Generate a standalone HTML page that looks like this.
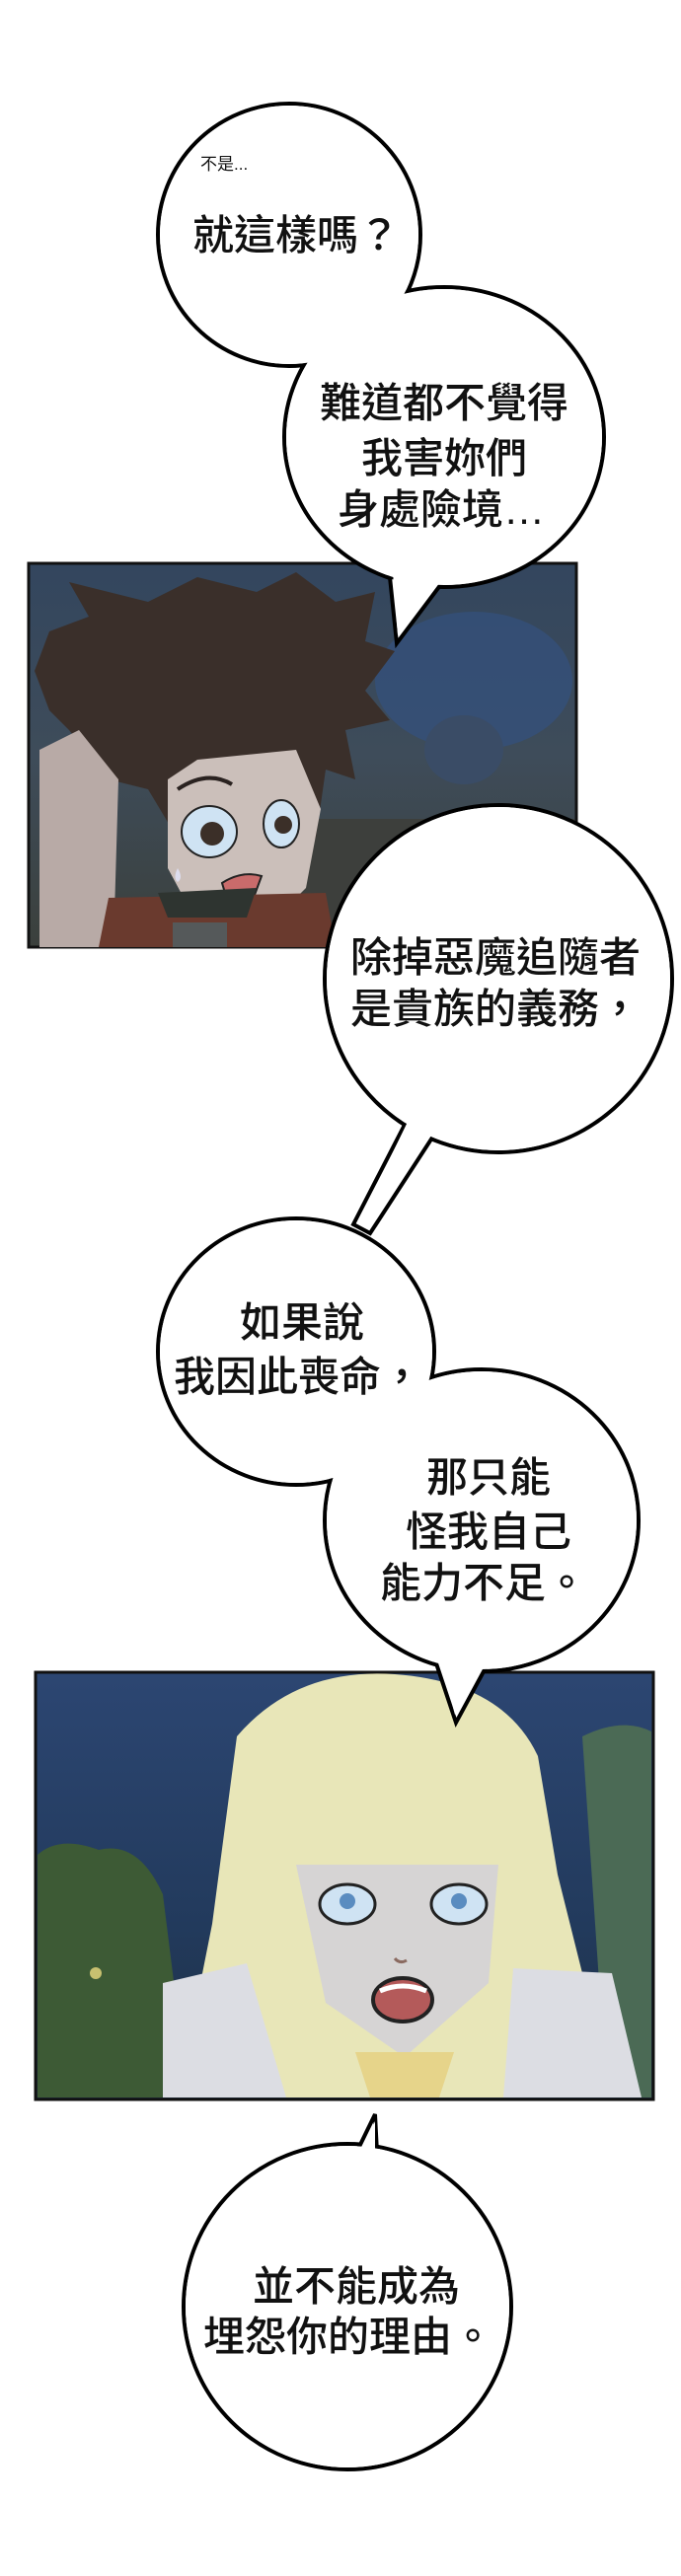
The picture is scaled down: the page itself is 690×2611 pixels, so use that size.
<!DOCTYPE html>
<html><head><meta charset="utf-8"><style>
html,body{margin:0;padding:0;background:#fff;}
svg{display:block;}
text{font-family:"Liberation Sans","Noto Sans CJK TC",sans-serif;font-size:42px;font-weight:500;fill:#111;text-anchor:middle;}
</style></head><body>
<svg width="690" height="2611" viewBox="0 0 690 2611" xmlns="http://www.w3.org/2000/svg">
<defs>
<linearGradient id="p1" x1="0" y1="0" x2="0" y2="1"><stop offset="0" stop-color="#33465e"/><stop offset="0.5" stop-color="#3e4c5a"/><stop offset="1" stop-color="#3b403c"/></linearGradient>
<linearGradient id="p2" x1="0" y1="0" x2="0" y2="1"><stop offset="0" stop-color="#2c4672"/><stop offset="0.6" stop-color="#223a5c"/><stop offset="1" stop-color="#1e2e40"/></linearGradient>
</defs>
<!-- Panel 1 -->
<rect x="29" y="571" width="555" height="389" fill="url(#p1)" stroke="#111" stroke-width="3"/>
<ellipse cx="480" cy="690" rx="100" ry="70" fill="#34507a" opacity="0.8"/>
<ellipse cx="470" cy="760" rx="40" ry="35" fill="#3a4c66"/>
<rect x="300" y="830" width="282" height="128" fill="#3d3f3c"/>
<path d="M35 680 L50 640 L90 625 L70 590 L150 610 L200 585 L260 600 L300 580 L340 610 L380 600 L370 650 L400 660 L370 700 L395 730 L350 740 L360 790 L330 780 L320 850 L290 800 L250 790 L200 800 L180 850 L150 800 L110 790 L70 740 L50 720 Z" fill="#3a2f2a"/>
<path d="M170 790 L200 770 L300 760 L325 820 L310 900 L255 955 L205 945 L170 880 Z" fill="#cbbfba"/>
<path d="M180 800 Q210 780 235 795" stroke="#2a2220" stroke-width="4" fill="none"/>
<ellipse cx="212" cy="843" rx="28" ry="26" fill="#cfe3f3" stroke="#222" stroke-width="2"/><ellipse cx="285" cy="835" rx="18" ry="24" fill="#cfe3f3" stroke="#222" stroke-width="2"/>
<circle cx="215" cy="845" r="12" fill="#3b2f28"/><circle cx="287" cy="836" r="9" fill="#3b2f28"/>
<path d="M180 880 q-5 10 0 14 q6 -4 0 -14 z" fill="#dde"/>
<path d="M225 895 Q245 882 265 888 L258 907 Q240 914 228 905 Z" fill="#c96b6b" stroke="#222" stroke-width="2"/>
<path d="M40 760 L80 740 L120 790 L115 960 L40 960 Z" fill="#b8aaa6"/>
<path d="M110 910 L330 905 L340 960 L100 960 Z" fill="#6a3a2e"/>
<path d="M160 905 L260 900 L250 930 L170 930 Z" fill="#2e3430"/>
<rect x="175" y="935" width="55" height="25" fill="#55595a"/>
<!-- Panel 2 -->
<rect x="36" y="1695" width="626" height="433" fill="url(#p2)" stroke="#111" stroke-width="3"/>
<path d="M38 1880 Q60 1860 100 1875 Q140 1865 165 1920 L175 2000 L190 2126 L38 2126 Z" fill="#3d5a35"/>
<circle cx="97" cy="2000" r="6" fill="#c8c070"/>
<path d="M590 1760 Q630 1740 660 1755 L660 2126 L615 2126 Z" fill="#4b6a55"/>
<path d="M240 1760 Q300 1690 400 1697 Q510 1705 545 1780 L565 1900 L590 2000 L610 2126 L180 2126 L215 1950 Z" fill="#e8e6b8"/>
<path d="M165 2010 L250 1990 L290 2126 L165 2126 Z" fill="#dcdde3"/>
<path d="M520 1995 L620 2000 L650 2126 L510 2126 Z" fill="#dcdde3"/>
<path d="M300 1890 L505 1890 L495 2010 L410 2085 L330 2030 Z" fill="#d6d4d4"/>
<ellipse cx="352" cy="1930" rx="28" ry="20" fill="#cfe3f3" stroke="#222" stroke-width="3"/>
<ellipse cx="465" cy="1930" rx="28" ry="20" fill="#cfe3f3" stroke="#222" stroke-width="3"/>
<circle cx="352" cy="1927" r="8" fill="#5a8cc0"/><circle cx="465" cy="1927" r="8" fill="#5a8cc0"/>
<path d="M400 1985 q5 6 12 2" stroke="#8a6a60" stroke-width="3" fill="none"/>
<ellipse cx="408" cy="2027" rx="30" ry="22" fill="#b45a5a" stroke="#222" stroke-width="4"/>
<path d="M385 2018 Q408 2008 432 2018" stroke="#fff" stroke-width="5" fill="none"/>
<path d="M360 2080 L460 2080 L445 2126 L375 2126 Z" fill="#e6d48a"/>
<!-- Bubble outlines -->
<g fill="#fff" stroke="#000" stroke-width="4">
<ellipse cx="293" cy="238" rx="133" ry="133"/>
<ellipse cx="450" cy="443" rx="162" ry="152"/>
<path d="M395 585 L402 652 L450 588 Z"/>
<ellipse cx="505" cy="992" rx="176" ry="176"/>
<path d="M410 1140 L358 1241 L375 1250 L440 1150 Z"/>
<ellipse cx="300" cy="1370" rx="140" ry="135"/>
<ellipse cx="488" cy="1541" rx="159" ry="153"/>
<path d="M440 1680 L462 1746 L495 1685 Z"/>
<ellipse cx="352" cy="2338" rx="166" ry="165"/>
<path d="M362 2180 L380 2143 L382 2182 Z"/>
</g>
<g fill="#fff">
<ellipse cx="293" cy="238" rx="131" ry="131"/>
<ellipse cx="450" cy="443" rx="160" ry="150"/>
<path d="M398 580 L403 644 L446 580 Z"/>
<ellipse cx="505" cy="992" rx="174" ry="174"/>
<path d="M414 1135 L364 1238 L372 1244 L436 1140 Z"/>
<ellipse cx="300" cy="1370" rx="138" ry="133"/>
<ellipse cx="488" cy="1541" rx="157" ry="151"/>
<path d="M444 1675 L461 1738 L490 1675 Z"/>
<ellipse cx="352" cy="2338" rx="164" ry="163"/>
<path d="M365 2185 L380 2150 L380 2188 Z"/>
</g>
<!-- Text -->
<text x="203" y="172" style="font-size:17px;font-weight:400;text-anchor:start">不是...</text>
<text x="300" y="253">就這樣嗎？</text>
<text x="450" y="423">難道都不覺得</text>
<text x="450" y="479">我害妳們</text>
<text x="447" y="531">身處險境…</text>
<text x="502" y="985">除掉惡魔追隨者</text>
<text x="502" y="1037">是貴族的義務，</text>
<text x="306" y="1355">如果說</text>
<text x="302" y="1410">我因此喪命，</text>
<text x="495" y="1512">那只能</text>
<text x="495" y="1567">怪我自己</text>
<text x="490" y="1619">能力不足。</text>
<text x="361" y="2332">並不能成為</text>
<text x="353" y="2383">埋怨你的理由。</text>
</svg>
</body></html>
